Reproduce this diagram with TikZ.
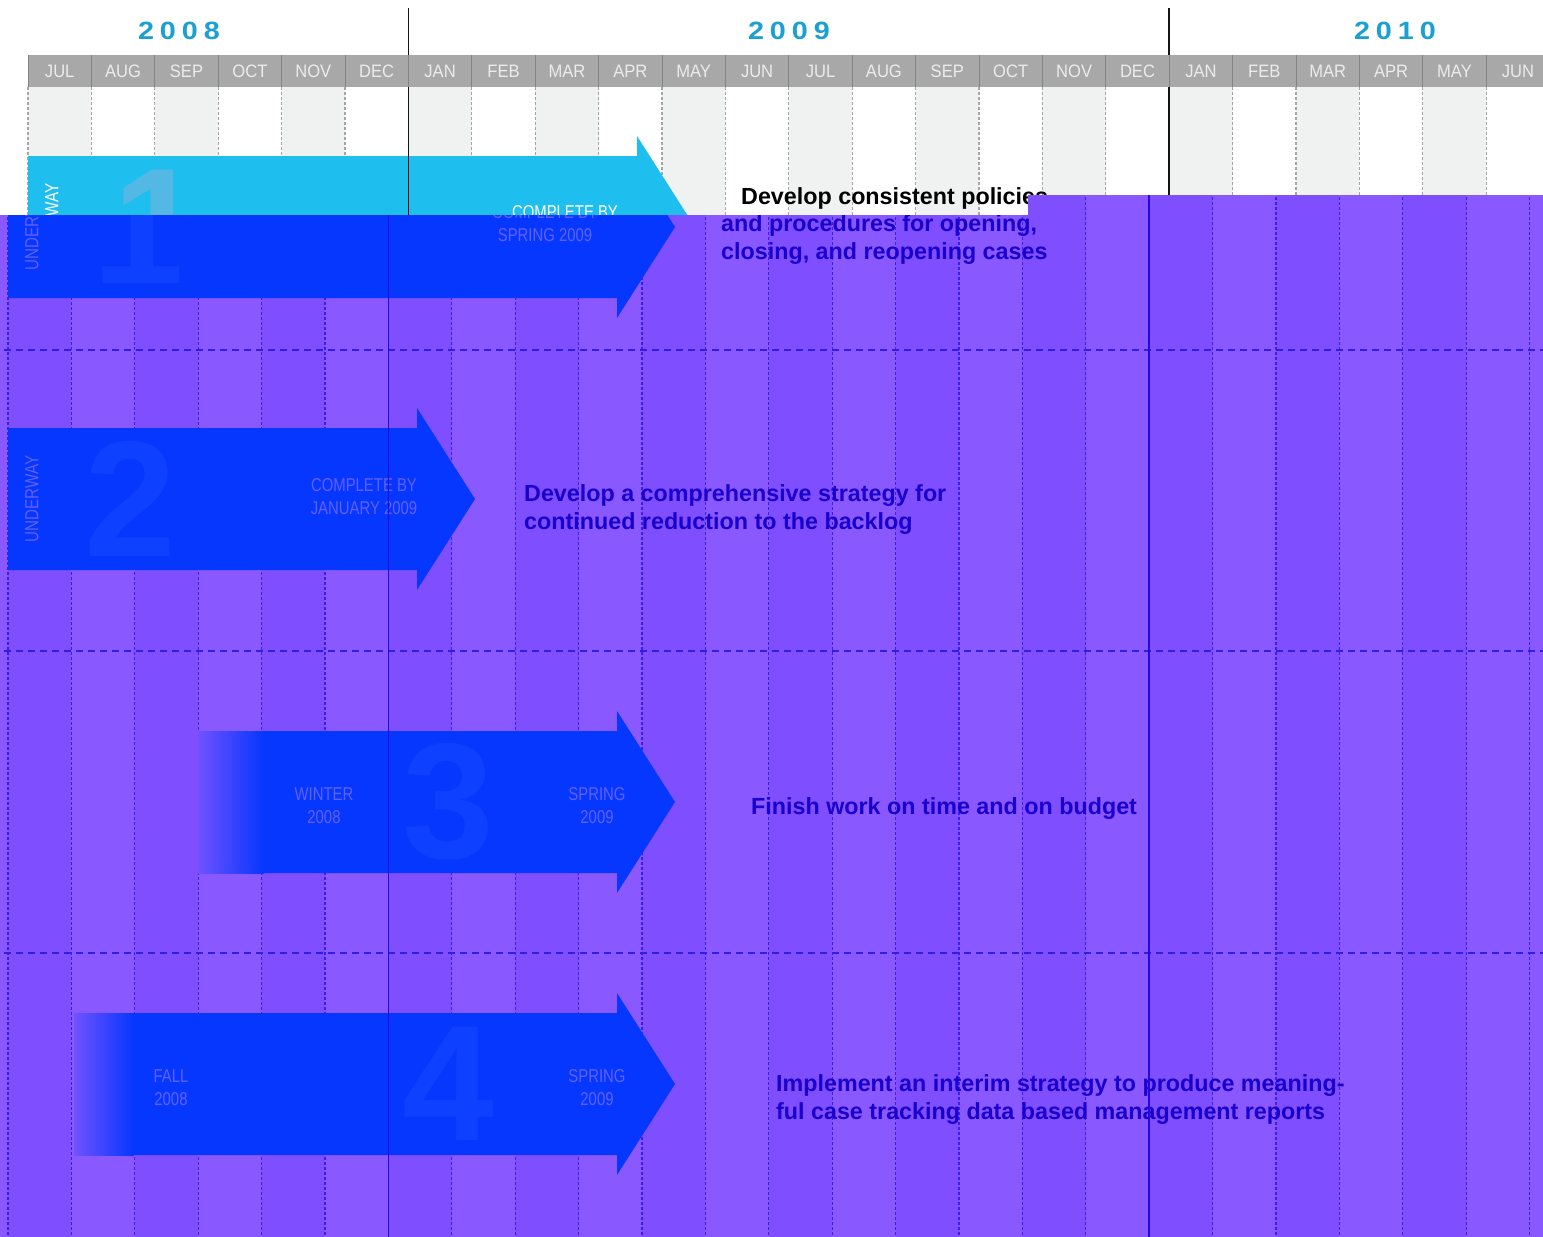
\documentclass[tikz,border=0pt]{standalone}
\usepackage{fontspec}
\setmainfont{Liberation Sans}
\newfontfamily\condfont[FakeStretch=0.8]{Liberation Sans}
\newfontfamily\monthfont[FakeStretch=0.92]{Liberation Sans}
\newfontfamily\yearfont[FakeStretch=1.15,LetterSpace=24]{Liberation Sans}
\usetikzlibrary{positioning}

% plain chart
\definecolor{paper_col}{RGB}{255,255,255}
\definecolor{alt_col}{RGB}{240,242,242}
\definecolor{grid_col}{RGB}{165,165,165}
\definecolor{rule_col}{RGB}{20,20,20}
\definecolor{head_col}{RGB}{168,168,168}
\definecolor{head_txt}{RGB}{236,236,236}
\definecolor{year_col}{RGB}{28,160,210}
\definecolor{arrow_col}{RGB}{30,190,238}
\definecolor{num_col}{RGB}{84,184,228}
\definecolor{label_col}{RGB}{255,255,255}
\definecolor{task_col}{RGB}{0,0,0}
\definecolor{sep_col}{RGB}{150,150,150}
% tinted copy
\definecolor{v_paper}{RGB}{138,88,255}
\definecolor{v_alt}{RGB}{127,78,255}
\definecolor{v_grid}{RGB}{60,30,232}
\definecolor{v_rule}{RGB}{36,8,222}
\definecolor{v_arrow}{RGB}{5,55,255}
\definecolor{v_num}{RGB}{14,64,255}
\definecolor{v_label}{RGB}{98,96,255}
\definecolor{v_task}{RGB}{25,0,205}
\definecolor{v_sep}{RGB}{50,30,225}

% month columns and row separators
\newcommand{\drawcolumns}{%
  \foreach \i in {0,...,23} {
    \ifodd\i\relax\else
      \fill[alt_col] ({28+63.4*\i},87) rectangle ({28+63.4*(\i+1)},1237);
    \fi
    \draw[gridline] ({28+63.4*\i},87) -- ({28+63.4*\i},1237);
  }
  \draw[gridline] (1549.6,87) -- (1549.6,1237);
  \foreach \y in {350,651,953}
    \draw[sepline] (0,\y) -- (1563,\y);
}

\newcommand{\drawyearlines}{%
  \draw[yearline] (408.4,8) -- (408.4,1237);
  \draw[yearline] (1169.2,8) -- (1169.2,1237);
}

% month bar and years, #1 prefixes the node names
\newcommand{\drawheader}[1]{%
  \foreach \mon [count=\i from 0] in {JUL,AUG,SEP,OCT,NOV,DEC,JAN,FEB,MAR,APR,MAY,JUN,JUL,AUG,SEP,OCT,NOV,DEC,JAN,FEB,MAR,APR,MAY,JUN} {
    \fill[head_col] ({28+63.4*\i},55) rectangle ({28+63.4*(\i+1)},87);
    \draw[headsep] ({28+63.4*\i},55) -- ({28+63.4*\i},87);
    \node[month] (#1m\i) at ({28+63.4*(\i+0.5)},71) {\mon};
  }
  \node[year] (#1y08) at (179,31) {2008};
  \node[year] (#1y09) at (789,31) {2009};
  \node[year] (#1y10) at (1395,31) {2010};
}

\newcommand{\drawgoalone}[1]{%
  \fill[arrow_col] (28,156) -- (637,156) -- (637,136) -- (695,227) -- (637,318) -- (637,298) -- (28,298) -- cycle;
  \node[status] (#1st1) at (52,227) {UNDERWAY};
  \node[bignum] (#1n1) at (158,227) {1};
  \node[due] (#1d1) at (565,224) {COMPLETE BY\\SPRING 2009};
}

\newcommand{\drawgoals}[1]{%
  % goal 2
  \fill[arrow_col] (28,428) -- (437,428) -- (437,408) -- (495,499) -- (437,590) -- (437,570) -- (28,570) -- cycle;
  \node[status] (#1st2) at (52,499) {UNDERWAY};
  \node[bignum] (#1n2) at (150,499) {2};
  \node[due] (#1d2) at (384,497) {COMPLETE BY\\JANUARY 2009};
  \node[task] (#1t2) at (544,510) {Develop a comprehensive strategy for\\continued reduction to the backlog};

  % goal 3
  \shade[left color=paper_col!80!arrow_col, right color=arrow_col] (218,731) rectangle (284,873);
  \fill[arrow_col] (283,731) -- (637,731) -- (637,711) -- (695,802) -- (637,893) -- (637,873) -- (283,873) -- cycle;
  \node[due] (#1f3) at (344,806) {WINTER\\2008};
  \node[bignum] (#1n3) at (468,802) {3};
  \node[due] (#1d3) at (617,806) {SPRING\\2009};
  \node[task] (#1t3) at (771,809) {Finish work on time and on budget};

  % goal 4
  \shade[left color=paper_col!80!arrow_col, right color=arrow_col] (94,1013) rectangle (154,1155);
  \fill[arrow_col] (153,1013) -- (637,1013) -- (637,993) -- (695,1084) -- (637,1175) -- (637,1155) -- (153,1155) -- cycle;
  \node[due] (#1f4) at (191,1088) {FALL\\2008};
  \node[bignum] (#1n4) at (468,1084) {4};
  \node[due] (#1d4) at (617,1088) {SPRING\\2009};
  \node[task] (#1t4) at (796,1100) {Implement an interim strategy to produce meaning-\\ful case tracking data based management reports};
}

\begin{document}
\begin{tikzpicture}[x=1pt, y=-1pt,
    month/.style={font=\monthfont\fontsize{18}{18}\selectfont, text=head_txt, inner sep=0pt},
    year/.style={font=\yearfont\bfseries\fontsize{25}{25}\selectfont, text=year_col, inner sep=0pt},
    status/.style={font=\condfont\fontsize{19}{19}\selectfont, text=label_col, rotate=90, inner sep=0pt},
    bignum/.style={font=\bfseries\fontsize{165}{165}\selectfont, text=num_col, inner sep=0pt},
    due/.style={font=\condfont\fontsize{18.6}{23}\selectfont, text=label_col, align=center, inner sep=0pt},
    task/.style={font=\bfseries\fontsize{23.3}{28}\selectfont, text=task_col, align=left, anchor=west, inner sep=0pt},
    gridline/.style={grid_col, line width=1.1pt, dash pattern=on 3pt off 2pt},
    headsep/.style={grid_col!80!black, line width=0.8pt},
    sepline/.style={sep_col, line width=1.6pt, dash pattern=on 7pt off 5pt},
    yearline/.style={rule_col, line width=1.5pt}]

  \useasboundingbox (0,0) rectangle (1543,1237);
  \fill[paper_col] (0,0) rectangle (1543,1237);

  % plain chart
  \drawcolumns
  \drawgoalone{p}
  \drawyearlines
  \drawheader{p}
  \node[task] (pt1) at (741,198) {Develop consistent policies};

  % tinted copy, shifted left
  \begin{scope}
    \clip (0,215) -- (1028,215) -- (1028,195) -- (1543,195) -- (1543,1237) -- (0,1237) -- cycle;
    \colorlet{paper_col}{v_paper}
    \colorlet{alt_col}{v_alt}
    \colorlet{grid_col}{v_grid}
    \colorlet{rule_col}{v_rule}
    \colorlet{arrow_col}{v_arrow}
    \colorlet{num_col}{v_num}
    \colorlet{label_col}{v_label}
    \colorlet{task_col}{v_task}
    \colorlet{sep_col}{v_sep}
    \fill[paper_col] (0,0) rectangle (1543,1237);
    \begin{scope}[shift={(-20,0)}]
      \drawcolumns
      \drawgoalone{v}
      \node[task] (vt1) at (741,240) {and procedures for opening,\\closing, and reopening cases};
      \drawgoals{v}
      \drawyearlines
    \end{scope}
  \end{scope}

\end{tikzpicture}
\end{document}
